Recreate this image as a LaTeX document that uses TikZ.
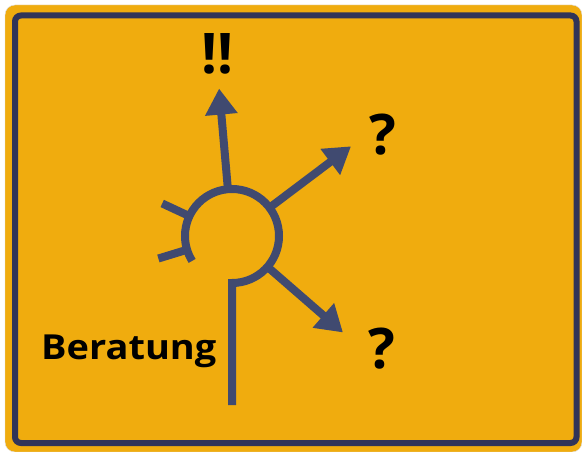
\documentclass[tikz,border=0pt]{standalone}
\usepackage{fontspec}
\setmainfont{Open Sans}
\usetikzlibrary{arrows.meta}

\definecolor{schildgelb}{RGB}{240, 172, 14}
\definecolor{randblau}{RGB}{48, 52, 88}
\definecolor{strassenblau}{RGB}{64, 74, 112}

\begin{document}
\begin{tikzpicture}[x=1pt, y=-1pt,
		strasse/.style={draw=strassenblau, line width=8pt, line join=miter},
		pfeil/.style={strasse, -{Triangle[width=31pt, length=26pt]}},
		zeichen/.style={text=black, font=\fontsize{56}{60}\selectfont\bfseries, inner sep=0pt, anchor=base}]
		
		\useasboundingbox (0,0) rectangle (582,452);
		
		% Hintergrund und Schildtafel
		\fill[white] (0,0) rectangle (582,452);
		\draw[fill=schildgelb, draw=gray!25, rounded corners=10pt] (5,5) rectangle (582,452);
		
		% Dunkler Rand
		\draw[draw=randblau, line width=6pt, rounded corners=6pt] (15,15.5) rectangle (576.5,443);
		
		% Kreisverkehr mit Zufahrt von unten
		\coordinate (mitte) at (232,236);
		\draw[strasse] (232,405) coordinate (zufahrt) -- (232,283) arc[start angle=90, end angle=-212, radius=47];
		
		% Stichstrassen links (ohne Ziel)
		\foreach \w/\name in {-155/stich-oben, -197/stich-unten} {
			\path (mitte) ++(\w:47) coordinate (\name-a) ++(\w:30) coordinate (\name-b);
			\draw[strasse] (\name-a) -- (\name-b);
		}
		
		% Ausfahrten mit Pfeilspitzen
		\foreach \w/\l/\name in {-95/101/oben, -37/102/rechts-oben, 41/100/rechts-unten} {
			\path (mitte) ++(\w:47) coordinate (ab-\name) ++(\w:\l) coordinate (ziel-\name);
			\draw[pfeil] (ab-\name) -- (ziel-\name);
		}
		
		% Beschriftung
		\node[zeichen] (ausrufe) at (218,74) {!!};
		\node[zeichen] (frage-oben) at (383,155) {?};
		\node[zeichen] (frage-unten) at (382,368) {?};
		\node[text=black, font=\fontsize{34.5}{38}\selectfont\bfseries, inner sep=0pt, anchor=base west, xscale=1.1] (beratung) at (41,359) {Beratung};
		
	\end{tikzpicture}
\end{document}
